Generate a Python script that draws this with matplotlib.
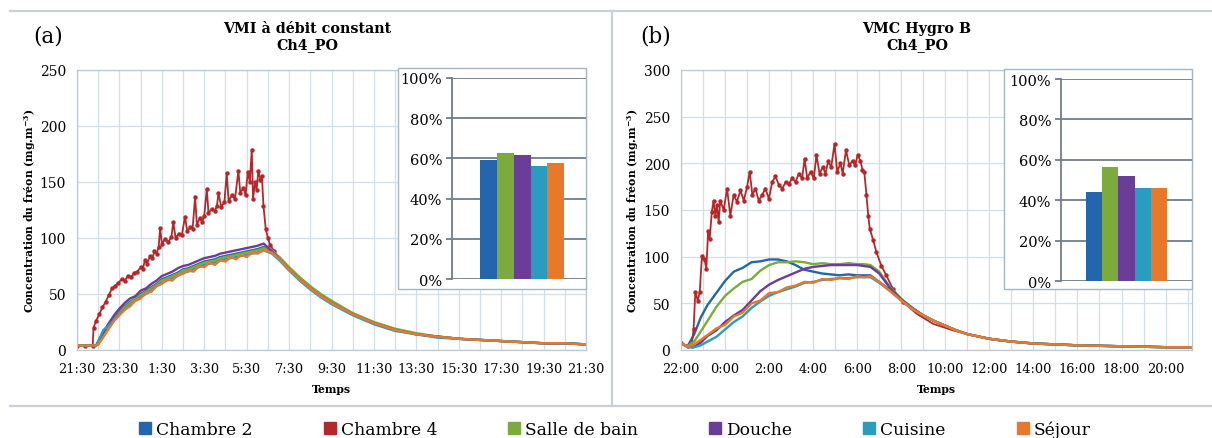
import matplotlib
matplotlib.use('Agg')
import matplotlib.pyplot as plt
from matplotlib.patches import Rectangle
from matplotlib.lines import Line2D

plt.rcParams['font.family'] = ['DejaVu Serif']
plt.rcParams['mathtext.fontset'] = 'dejavuserif'

# ---------------- data ----------------
series_names = ['Chambre 2', 'Chambre 4', 'Salle de bain', 'Douche', 'Cuisine', 'Séjour']
series_colors = ['#2366ad', '#b3282b', '#7aab3c', '#6a3d99', '#2a9cbf', '#e8792a']

bar_names = ['Chambre 2', 'Salle de bain', 'Douche', 'Cuisine', 'Séjour']
bar_colors = ['#2366ad', '#7aab3c', '#6a3d99', '#2a9cbf', '#e8792a']

# Panel (a): hours after 21:30
a_title = 'VMI à débit constant\nCh4_PO'
a_xticklabels = ['21:30', '23:30', '1:30', '3:30', '5:30', '7:30', '9:30', '11:30',
                 '13:30', '15:30', '17:30', '19:30', '21:30']
a_t = [0, 0.5, 0.9, 1.0, 1.25, 1.5, 1.75, 2.0, 2.25, 2.5, 2.75, 3.0, 3.25, 3.5, 3.75,
       4.0, 4.25, 4.5, 4.75, 5.0, 5.25, 5.5, 5.75, 6.0, 6.25, 6.5, 6.75, 7.0, 7.25,
       7.5, 7.75, 8.0, 8.25, 8.5, 8.8, 9.2, 9.6, 10, 10.5, 11, 11.5, 12, 13, 14, 15,
       16, 17, 18, 19, 20, 21, 22, 23, 24]
a_chambre2 = [4, 4, 4, 6, 13, 22, 29, 34, 39, 43, 46, 50, 53, 56, 59, 63, 65, 67, 69, 72,
              73, 75, 77, 79, 80, 81, 83, 84, 85, 86, 87, 88, 89, 90, 92, 87, 80, 72, 63,
              55, 48, 42, 32, 24, 18, 14, 12, 10, 9, 8, 7, 6, 6, 5]
a_salle = [4, 4, 4, 5, 12, 20, 28, 33, 38, 42, 46, 49, 52, 55, 58, 62, 64, 66, 68, 71,
           72, 74, 76, 78, 79, 80, 82, 83, 84, 85, 86, 87, 88, 89, 91, 89, 82, 74, 65,
           57, 50, 44, 33, 25, 19, 15, 12, 10, 9, 8, 7, 6, 6, 5]
a_douche = [4, 4, 4, 7, 16, 24, 31, 37, 42, 46, 48, 53, 55, 59, 62, 66, 68, 70, 73, 75,
            76, 78, 80, 82, 83, 84, 86, 87, 88, 89, 90, 91, 92, 93, 95, 88, 80, 72, 63,
            55, 48, 42, 32, 24, 18, 14, 12, 10, 9, 8, 7, 6, 6, 5]
a_cuisine = [4, 4, 4, 8, 18, 22, 27, 32, 36, 40, 44, 47, 50, 53, 57, 60, 62, 64, 66, 69,
             70, 72, 74, 76, 77, 78, 80, 81, 82, 83, 84, 85, 86, 87, 89, 86, 79, 71, 62,
             54, 47, 41, 31, 23, 17, 14, 11, 10, 9, 8, 7, 6, 6, 5]
a_sejour = [4, 4, 4, 5, 12, 19, 26, 31, 36, 39, 44, 46, 51, 52, 57, 59, 63, 62, 67, 68,
            71, 70, 75, 74, 78, 76, 80, 79, 83, 81, 85, 83, 87, 86, 89, 87, 80, 72, 63,
            55, 48, 42, 32, 24, 18, 14, 12, 10, 9, 8, 7, 6, 6, 5]
a_c4_t = [0, 0.4, 0.74, 0.78, 0.9, 1.05, 1.2, 1.35, 1.5, 1.65, 1.8, 1.95, 2.1, 2.25, 2.4,
          2.55, 2.7, 2.85, 3.0, 3.1, 3.2, 3.3, 3.45, 3.55, 3.65, 3.75, 3.85, 3.92, 4.0,
          4.15, 4.3, 4.45, 4.54, 4.65, 4.8, 4.95, 5.09, 5.2, 5.35, 5.45, 5.57, 5.65,
          5.8, 5.9, 6.0, 6.12, 6.2, 6.35, 6.5, 6.6, 6.67, 6.8, 6.95, 7.06, 7.15, 7.3,
          7.45, 7.61, 7.7, 7.85, 7.95, 8.05, 8.15, 8.24, 8.3, 8.4, 8.47, 8.55, 8.65,
          8.72, 8.79, 8.9, 9.0, 9.1, 9.3, 9.6, 10, 10.5, 11, 11.5, 12, 13, 14, 15, 16,
          17, 18, 19, 20, 21, 22, 23, 24]
a_chambre4 = [4, 4, 4, 20, 26, 32, 38, 43, 49, 55, 57, 60, 63, 62, 66, 65, 69, 70, 74, 72,
              80, 77, 84, 82, 88, 86, 92, 109, 95, 99, 96, 101, 114, 100, 104, 103, 119,
              106, 110, 108, 137, 112, 118, 114, 120, 144, 122, 126, 124, 129, 140, 128,
              132, 158, 133, 138, 135, 160, 140, 145, 138, 159, 150, 179, 135, 150, 143,
              160, 152, 155, 129, 108, 100, 94, 88, 80, 72, 63, 55, 48, 42, 32, 24, 18,
              14, 12, 10, 9, 8, 7, 6, 6, 5]
a_bars = [59, 62.5, 61.7, 56.2, 57.8]

# Panel (b): hours after 22:00
b_title = 'VMC Hygro B\nCh4_PO'
b_xticklabels = ['22:00', '0:00', '2:00', '4:00', '6:00', '8:00', '10:00', '12:00',
                 '14:00', '16:00', '18:00', '20:00']
b_t = [0, 0.3, 0.6, 0.9, 1.2, 1.6, 2.0, 2.4, 2.8, 3.2, 3.6, 4.0, 4.4, 4.8, 5.2, 5.6,
       6.0, 6.4, 6.8, 7.2, 7.6, 8.0, 8.3, 8.6, 9.0, 9.5, 10, 10.5, 11, 11.5, 12, 12.5,
       13, 14, 15, 16, 17, 18, 19, 20, 21, 22, 23.2]
b_chambre2 = [7, 4, 17, 35, 48, 61, 74, 84, 88, 94, 95, 97, 97, 95, 91, 86, 84, 82, 81,
              80, 81, 80, 80, 80, 73, 64, 54, 45, 37, 31, 26, 21, 17, 12, 9, 7, 6, 5,
              4.5, 4, 3.5, 3, 3]
b_salle = [7, 4, 9, 20, 31, 46, 58, 66, 73, 76, 85, 91, 94, 94, 95, 94, 92, 93, 92, 92,
           93, 92, 92, 91, 84, 67, 55, 45, 37, 31, 26, 21, 17, 12, 9, 7, 6, 5, 4.5, 4,
           3.5, 3, 3]
b_douche = [7, 4, 4, 8, 15, 21, 30, 37, 43, 53, 63, 70, 75, 79, 83, 87, 89, 90, 91, 91,
            91, 91, 90, 89, 82, 66, 54, 45, 37, 31, 26, 21, 17, 12, 9, 7, 6, 5, 4.5, 4,
            3.5, 3, 3]
b_cuisine = [7, 3, 3, 5, 9, 14, 22, 30, 36, 45, 52, 58, 62, 65, 68, 72, 73, 75, 76, 77,
             77, 78, 78, 78, 72, 63, 53, 44, 37, 31, 26, 21, 17, 12, 9, 7, 6, 5, 4.5, 4,
             3.5, 3, 3]
b_sejour = [7, 4, 6, 11, 16, 23, 27, 36, 40, 50, 53, 61, 62, 67, 69, 73, 72, 76, 75, 77,
            76, 79, 78, 79, 73, 63, 53, 44, 37, 31, 26, 21, 17, 12, 9, 7, 6, 5, 4.5, 4,
            3.5, 3, 3]
b_c4_t = [0, 0.3, 0.48, 0.57, 0.65, 0.76, 0.85, 0.95, 1.06, 1.15, 1.23, 1.3, 1.4, 1.48,
          1.56, 1.63, 1.71, 1.78, 1.94, 2.09, 2.24, 2.39, 2.54, 2.7, 2.85, 3.0, 3.12,
          3.24, 3.38, 3.53, 3.68, 3.83, 3.99, 4.14, 4.29, 4.44, 4.6, 4.75, 4.9, 5.05,
          5.2, 5.35, 5.5, 5.61, 5.73, 5.88, 6.03, 6.15, 6.29, 6.44, 6.56, 6.68, 6.82,
          6.97, 7.09, 7.24, 7.34, 7.49, 7.64, 7.79, 7.91, 8.02, 8.14, 8.24, 8.32, 8.42,
          8.5, 8.57, 8.72, 8.87, 9.1, 9.32, 9.63, 10.1, 10.69, 11.45, 12.35, 13.26,
          14.47, 16, 18, 20, 23.2]
b_chambre4 = [7, 4, 4, 22, 62, 53, 62, 101, 98, 87, 127, 119, 148, 160, 144, 155, 137,
              160, 150, 173, 144, 166, 159, 171, 160, 175, 191, 166, 173, 160, 166, 173,
              162, 180, 186, 177, 173, 180, 178, 184, 180, 189, 184, 205, 184, 191, 184,
              209, 189, 196, 189, 202, 196, 221, 191, 200, 189, 214, 198, 203, 198, 209,
              203, 193, 191, 166, 144, 130, 118, 105, 90, 80, 65, 51, 39, 28, 21, 15.6,
              10, 7, 5, 4, 3]
b_bars = [44, 56.4, 52.2, 46.1, 45.8]

# ---------------- figure ----------------
W, H = 1212, 439
fig = plt.figure(figsize=(W / 100, H / 100), dpi=100)


def fx(px):
    return px / W


def fy(py):
    return 1 - py / H


grid_c = '#cfdfec'
inset_c = '#6f7e8a'
frame_c = '#c9d0d6'


def draw_panel(x0, x1, tmax, ymax, ystep, t, curves, c4_t, c4, merge_t, xlabels, bars,
               box, inset, title, tag, tag_x, title_x, ylab_x):
    ax = fig.add_axes([fx(x0), fy(351), fx(x1 - x0), fy(71) - fy(351)])
    marks = [i for i, v in enumerate(c4_t) if v <= merge_t]
    for i in range(6):
        if i == 1:
            ax.plot(c4_t, c4, color=series_colors[1], lw=1.3, marker='o', ms=2.2,
                    markevery=marks, zorder=2)
        else:
            k = [0, None, 1, 2, 3, 4][i]
            ax.plot(t, curves[k], color=series_colors[i], lw=1.7, zorder=2)
    ax.set_xlim(0, tmax)
    ax.set_ylim(0, ymax)
    ax.set_yticks(range(0, ymax + 1, ystep))
    ax.set_xticks([2 * i for i in range(len(xlabels))])
    ax.set_xticklabels(xlabels)
    ax.set_xticks([h for h in range(int(tmax) + 1)], minor=True)
    ax.grid(True, which='both', axis='x', color=grid_c, lw=0.9)
    ax.grid(True, which='major', axis='y', color=grid_c, lw=0.9)
    ax.set_axisbelow(True)
    ax.tick_params(which='both', length=0)
    ax.tick_params(axis='y', pad=8, labelsize=10)
    ax.tick_params(axis='x', pad=9, labelsize=9.3)
    for s in ax.spines.values():
        s.set_color('#b8cad8')
        s.set_linewidth(0.9)
    # inset box
    bx0, by0, bx1, by1 = box
    fig.add_artist(Rectangle((fx(bx0), fy(by1)), fx(bx1 - bx0), fy(by0) - fy(by1),
                             transform=fig.transFigure, facecolor='white',
                             edgecolor='#a8b6c1', lw=1.0, zorder=4))
    ix0, iy0, ix1, iy1, xl, xr = inset
    ai = fig.add_axes([fx(ix0), fy(iy1), fx(ix1 - ix0), fy(iy0) - fy(iy1)], zorder=5)
    ai.bar(range(len(bars)), bars, width=1.0, color=bar_colors, zorder=3)
    ai.set_xlim(xl, xr)
    ai.set_ylim(0, 100)
    ai.set_yticks(range(0, 101, 20))
    ai.set_yticklabels([f'{v}%' for v in range(0, 101, 20)])
    ai.set_xticks([])
    ai.grid(True, axis='y', color=inset_c, lw=1.3)
    ai.set_axisbelow(True)
    ai.tick_params(axis='y', length=4, width=1.3, color=inset_c, labelsize=10.5, pad=3)
    for k in ['top', 'right', 'bottom']:
        ai.spines[k].set_visible(False)
    ai.spines['left'].set_color(inset_c)
    ai.spines['left'].set_linewidth(1.3)
    ai.patch.set_alpha(0)
    # texts
    fig.text(fx(title_x), fy(37), title, ha='center', va='center', fontsize=10.3,
             fontweight='bold', linespacing=1.2)
    fig.text(fx(tag_x), fy(36), tag, ha='center', va='center', fontsize=15.5)
    fig.text(fx((x0 + x1) / 2), fy(390), 'Temps', ha='center', va='center',
             fontsize=7.8, fontweight='bold')
    fig.text(fx(ylab_x), fy(211), r'Concentration du fréon (mg.m$^{\mathbf{-3}}$)',
             rotation=90, ha='center', va='center', fontsize=7.8, fontweight='bold')
    return ax


draw_panel(77, 586, 24, 250, 50, a_t,
           [a_chambre2, a_salle, a_douche, a_cuisine, a_sejour],
           a_c4_t, a_chambre4, 9.3, a_xticklabels, a_bars,
           (398, 69, 586, 290), (452, 79, 586, 280, -2.2, 5.8),
           a_title, '(a)', 48, 307, 30)
draw_panel(681, 1192, 23.2, 300, 50, b_t,
           [b_chambre2, b_salle, b_douche, b_cuisine, b_sejour],
           b_c4_t, b_chambre4, 10.2, b_xticklabels, b_bars,
           (1004, 70, 1192, 290), (1061, 80, 1192, 282, -2.05, 6.05),
           b_title, '(b)', 656, 917, 633)

# panel frames
fig.add_artist(Line2D([fx(10), 1], [fy(12), fy(12)], transform=fig.transFigure,
                      color=frame_c, lw=1.6))
fig.add_artist(Line2D([fx(10), 1], [fy(407), fy(407)], transform=fig.transFigure,
                      color=frame_c, lw=1.6))
fig.add_artist(Line2D([fx(612), fx(612)], [fy(12), fy(407)], transform=fig.transFigure,
                      color=frame_c, lw=1.6))

# legend
handles = [Line2D([], [], marker='s', ls='', color=c, markersize=8) for c in series_colors]
fig.legend(handles, series_names, ncol=6, loc='center', bbox_to_anchor=(fx(615), fy(430)),
           frameon=False, fontsize=12.3, handlelength=0.7, handletextpad=0.3,
           columnspacing=4.15, borderaxespad=0)

fig.savefig('out.png', dpi=100)
